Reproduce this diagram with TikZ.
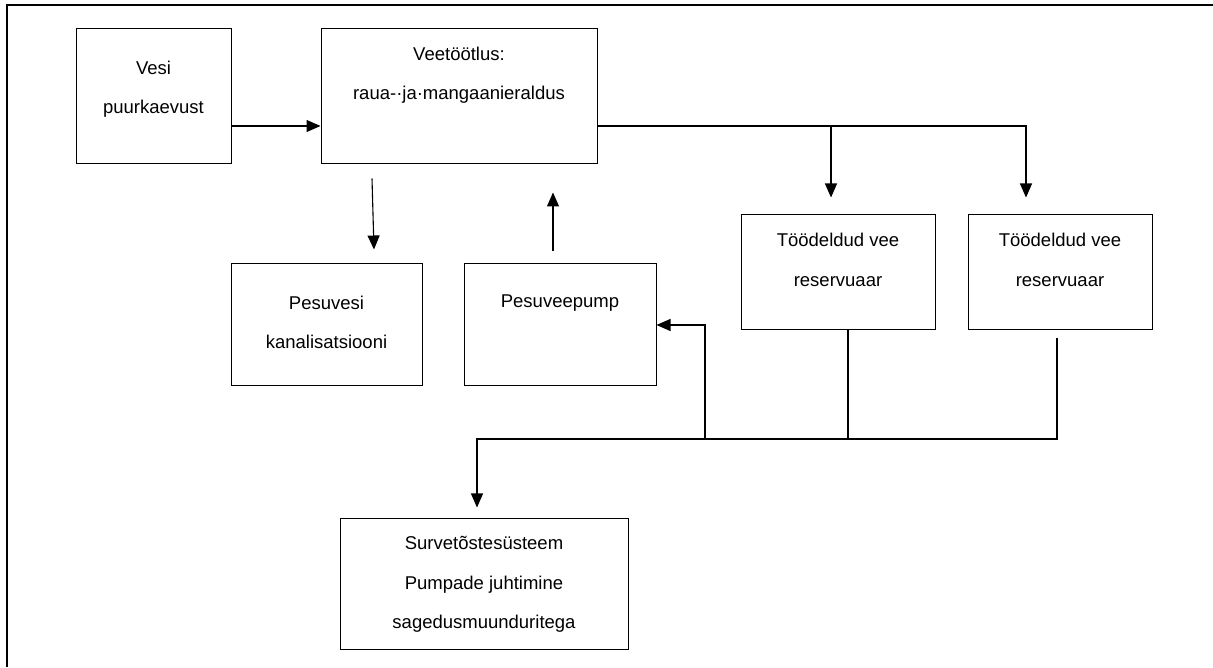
\documentclass[tikz,border=0pt]{standalone}
\usepackage{fontspec}
\setmainfont{Liberation Sans}
\usetikzlibrary{arrows.meta, positioning, calc}

\tikzset{
  kast/.style={draw, line width=1pt, inner sep=0pt},
  tekst/.style={align=center, font=\fontsize{18.5}{39.5}\selectfont},
  nool/.style={-{Triangle[length=14pt,width=12pt]}, line width=1.1pt},
  joon/.style={line width=1.1pt}
}

\begin{document}
\begin{tikzpicture}[x=1pt, y=1pt]
\useasboundingbox (0,0) rectangle (1213,667);

% frame (top and left only)
\draw[line width=2.5pt] (7.2,0) -- (7.2,661.8) -- (1213,661.8);

% boxes
\node[kast, minimum width=155pt, minimum height=135pt] (vesi) at (153.5,570.5) {};
\node[kast, minimum width=276pt, minimum height=135pt] (veet) at (459,570.5) {};
\node[kast, minimum width=191pt, minimum height=122pt] (pesuvesi) at (326.5,342) {};
\node[kast, minimum width=192pt, minimum height=122pt] (pump) at (560,342) {};
\node[kast, minimum width=194pt, minimum height=115pt] (res1) at (838,394.5) {};
\node[kast, minimum width=184pt, minimum height=115pt] (res2) at (1060,394.5) {};
\node[kast, minimum width=288pt, minimum height=130pt] (survet) at (484,83) {};

% texts
\node[tekst] (vesi-t) at (153.5,577.7) {Vesi\\puurkaevust};
\node[tekst] (veet-t) at (459,591.7) {Veetöötlus:\\raua-·ja·mangaanieraldus};
\node[tekst] (pesuvesi-t) at (326.5,344.6) {Pesuvesi\\kanalisatsiooni};
\node[tekst] (pump-t) at (560,364) {Pesuveepump};
\node[tekst] (res1-t) at (838,407) {Töödeldud vee\\reservuaar};
\node[tekst] (res2-t) at (1060,407) {Töödeldud vee\\reservuaar};
\node[tekst] (survet-t) at (484,82.7) {Survetõstesüsteem\\Pumpade juhtimine\\sagedusmuunduritega};

% bus coordinates
\coordinate (siin) at (477,228);
\coordinate (haru) at (705,228);

% connectors
\draw[nool] ([yshift=-29.5pt]vesi.east) -- ([yshift=-29.5pt]veet.west);
\draw[nool] ([yshift=-29.5pt]veet.east) -| ([shift={(-34,17)}]res2.north);
\draw[nool] ([shift={(-7,89)}]res1.north) -- ([shift={(-7,17)}]res1.north);
\draw[nool] ([shift={(-87,-14)}]veet.south) -- ([shift={(47.5,14)}]pesuvesi.north);
\draw[nool] ([shift={(-7,12)}]pump.north) -- ([shift={(94,-28)}]veet.south);

\draw[nool] ([shift={(-3,-8)}]res2.south) |- (siin) -- ([shift={(-7,11)}]survet.north);
\draw[joon] ([xshift=10pt]res1.south) -- ([xshift=10pt]res1.south |- siin);
\draw[nool] (haru) |- (pump.east);

\end{tikzpicture}
\end{document}
